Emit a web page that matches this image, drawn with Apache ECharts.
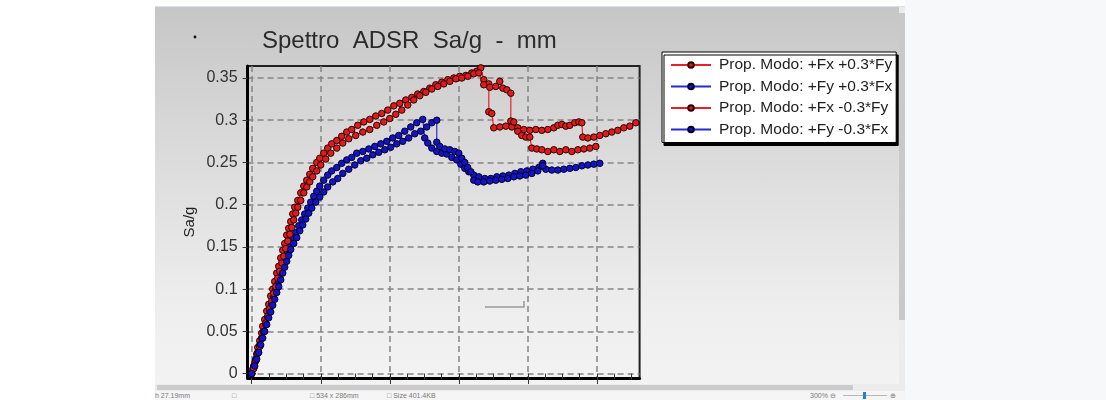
<!DOCTYPE html>
<html>
<head>
<meta charset="utf-8">
<title>Spettro ADSR Sa/g - mm</title>
<script src="https://cdn.jsdelivr.net/npm/echarts@6/dist/echarts.min.js"></script>
<style>
  html, body { margin: 0; padding: 0; width: 1106px; height: 400px; overflow: hidden; background: #ffffff;
               font-family: 'Liberation Sans', Arial, sans-serif; }
  #rightzone { position: absolute; left: 905px; top: 0; width: 201px; height: 400px; background: #f7f8fa; }
  #topline { position: absolute; left: 155px; top: 6px; width: 750px; height: 1px; background: #dcdfee; }
  #panel { position: absolute; left: 155px; top: 7px; width: 745px; height: 377px;
           background: linear-gradient(#c6c6c6, #d9d9d9 35%, #eeeeee 80%, #f3f3f3); }
  #chart { position: absolute; left: 0; top: 0; width: 1106px; height: 400px; z-index: 1; }
  #vscroll { position: absolute; left: 899px; top: 7px; width: 6px; height: 377px; background: #ececec; z-index: 2; }
  #vthumb { position: absolute; left: 899px; top: 13px; width: 6px; height: 307px; background: #c9c9c9; z-index: 3; }
  #hscroll { position: absolute; left: 155px; top: 384px; width: 750px; height: 7px; background: #ececec; z-index: 2; }
  #hthumb { position: absolute; left: 157px; top: 385px; width: 696px; height: 5px; background: #cbcbcb; z-index: 3; }
  #status { position: absolute; left: 155px; top: 391px; width: 750px; height: 9px; background: #f5f5f5; z-index: 2;
            font-size: 7px; line-height: 9px; color: #7a7a7a; }
  #status span { position: absolute; top: 0; white-space: nowrap; }
  #zoomtrack { position: absolute; left: 688px; top: 4px; width: 44px; height: 1px; background: #b8b8b8; }
  #zoomthumb { position: absolute; left: 708px; top: 1px; width: 3px; height: 7px; background: #2b7cd3; }
</style>
</head>
<body>
<div id="rightzone"></div>
<div id="topline"></div>
<div id="panel"></div>
<div id="chart"></div>
<div id="vscroll"></div>
<div id="vthumb"></div>
<div id="hscroll"></div>
<div id="hthumb"></div>
<div id="status">
  <span style="left:0px">h 27.19mm</span>
  <span style="left:77px">&#9633;</span>
  <span style="left:155px">&#9633; 534 x 286mm</span>
  <span style="left:232px">&#9633; Size 401.4KB</span>
  <span style="left:655px">300%</span>
  <span style="left:675px">&#8854;</span>
  <div id="zoomtrack"></div>
  <div id="zoomthumb"></div>
  <span style="left:735px">&#8853;</span>
</div>
<script>
// Axis ticks
const yTicks = [0, 0.05, 0.1, 0.15, 0.2, 0.25, 0.3, 0.35];
const xTicks = [0, 10, 20, 30, 40, 50];
const xMinorTicks = [0, 2.5, 5, 7.5, 10, 12.5, 15, 17.5, 20, 22.5, 25, 27.5, 30, 32.5, 35, 37.5, 40, 42.5, 45, 47.5, 50, 52.5, 55];

// Series names
const seriesNames = [
  'Prop. Modo: +Fx +0.3*Fy',
  'Prop. Modo: +Fy +0.3*Fx',
  'Prop. Modo: +Fx -0.3*Fy',
  'Prop. Modo: +Fy -0.3*Fx'
];

// Capacity curves: [displacement mm, Sa/g]
const fxPlusFy = [
  [0, 0.000], [0.14, 0.005], [0.43, 0.013], [0.72, 0.023], [0.87, 0.031], [1.16, 0.039], [1.45, 0.048],
  [1.59, 0.056], [1.88, 0.064], [2.17, 0.074], [2.46, 0.082], [2.75, 0.092], [3.04, 0.100], [3.33, 0.109],
  [3.62, 0.119], [3.91, 0.127], [4.20, 0.137], [4.49, 0.146], [4.78, 0.154], [5.07, 0.164], [5.36, 0.172],
  [5.65, 0.180], [5.94, 0.189], [6.23, 0.197], [6.67, 0.205], [7.10, 0.214], [7.54, 0.222], [7.97, 0.229],
  [8.41, 0.236], [8.84, 0.243], [9.42, 0.250], [9.86, 0.255], [10.43, 0.261], [11.01, 0.267], [11.59, 0.272],
  [12.32, 0.276], [13.04, 0.281], [13.77, 0.286], [14.49, 0.289], [15.36, 0.294], [16.23, 0.298], [17.10, 0.301],
  [17.97, 0.305], [18.84, 0.308], [19.71, 0.312], [20.58, 0.317], [21.45, 0.320], [22.32, 0.324], [23.19, 0.327],
  [24.06, 0.331], [24.93, 0.334], [25.80, 0.338], [26.67, 0.342], [27.54, 0.345], [28.41, 0.348], [29.28, 0.350],
  [30.14, 0.352], [31.01, 0.353], [31.88, 0.356], [32.61, 0.358], [33.19, 0.362],
  [33.62, 0.348], [34.35, 0.343], [34.35, 0.310], [34.78, 0.308], [35.07, 0.291], [35.94, 0.292], [36.81, 0.293],
  [37.68, 0.292], [38.55, 0.291], [39.42, 0.289], [40.29, 0.288], [41.16, 0.289], [42.03, 0.288], [42.90, 0.289],
  [43.77, 0.291], [44.35, 0.294], [44.93, 0.295], [45.51, 0.293], [46.09, 0.294], [46.81, 0.297], [47.39, 0.298],
  [47.83, 0.297], [47.97, 0.280], [48.70, 0.279], [49.57, 0.280], [50.43, 0.282], [51.30, 0.284], [52.17, 0.286],
  [53.04, 0.288], [53.91, 0.291], [54.78, 0.293], [55.65, 0.297]
];

const fyPlusFx = [
  [0, 0.000], [0.29, 0.009], [0.58, 0.017], [0.87, 0.025], [1.16, 0.034], [1.45, 0.042], [1.74, 0.050],
  [2.03, 0.058], [2.32, 0.067], [2.61, 0.074], [2.90, 0.082], [3.19, 0.090], [3.48, 0.099], [3.77, 0.106],
  [4.06, 0.114], [4.35, 0.121], [4.64, 0.130], [4.93, 0.137], [5.22, 0.144], [5.51, 0.150], [5.80, 0.156],
  [6.09, 0.161], [6.38, 0.167], [6.81, 0.175], [7.25, 0.182], [7.68, 0.189], [8.12, 0.196], [8.55, 0.203],
  [8.99, 0.210], [9.42, 0.216], [9.86, 0.222], [10.43, 0.229], [11.01, 0.235], [11.59, 0.240], [12.32, 0.244],
  [13.04, 0.249], [13.77, 0.253], [14.49, 0.256], [15.22, 0.261], [16.09, 0.263], [16.96, 0.266], [17.83, 0.269],
  [18.70, 0.272], [19.57, 0.275], [20.43, 0.279], [21.30, 0.282], [22.17, 0.287], [23.04, 0.292], [23.91, 0.297],
  [24.78, 0.301],
  [25.07, 0.279], [25.51, 0.273], [26.09, 0.267], [26.81, 0.263], [27.54, 0.261], [28.26, 0.260], [28.99, 0.256],
  [29.71, 0.253], [30.29, 0.248], [30.87, 0.243], [31.45, 0.239], [32.17, 0.235], [32.90, 0.233], [33.77, 0.231],
  [34.64, 0.231], [35.51, 0.233], [36.38, 0.234], [37.25, 0.235], [38.12, 0.237], [38.99, 0.239], [39.86, 0.240],
  [40.72, 0.242], [41.59, 0.244], [42.17, 0.249], [42.61, 0.242], [43.48, 0.241], [44.35, 0.241], [45.22, 0.242],
  [46.09, 0.243], [46.96, 0.244], [47.83, 0.246], [48.70, 0.247], [49.57, 0.248], [50.43, 0.249]
];

const fxMinusFy = [
  [0, 0.000], [0.29, 0.006], [0.58, 0.015], [0.87, 0.024], [1.16, 0.032], [1.45, 0.042], [1.74, 0.050],
  [2.03, 0.060], [2.32, 0.068], [2.61, 0.077], [2.90, 0.086], [3.19, 0.095], [3.48, 0.103], [3.77, 0.113],
  [4.06, 0.121], [4.35, 0.131], [4.64, 0.139], [4.93, 0.148], [5.22, 0.157], [5.51, 0.165], [5.80, 0.173],
  [6.09, 0.182], [6.38, 0.190], [6.67, 0.197], [7.10, 0.205], [7.54, 0.214], [7.97, 0.221], [8.41, 0.227],
  [8.84, 0.233], [9.42, 0.240], [10.00, 0.247], [10.72, 0.254], [11.45, 0.261], [12.32, 0.267], [13.19, 0.273],
  [14.06, 0.278], [15.07, 0.282], [16.09, 0.286], [17.10, 0.289], [18.12, 0.294], [19.13, 0.298], [20.00, 0.302],
  [20.87, 0.307], [21.74, 0.312], [22.61, 0.318], [23.48, 0.324], [24.35, 0.329], [25.22, 0.333], [26.09, 0.337],
  [26.96, 0.340], [27.83, 0.343], [28.70, 0.346], [29.57, 0.349], [30.43, 0.350], [31.30, 0.352], [32.17, 0.355],
  [32.90, 0.356],
  [33.62, 0.342], [34.49, 0.339], [35.36, 0.340], [35.94, 0.346], [36.38, 0.338], [36.96, 0.336], [37.54, 0.332],
  [37.54, 0.299], [37.97, 0.298], [38.55, 0.287], [39.13, 0.282], [39.71, 0.280], [40.29, 0.280], [40.58, 0.267],
  [41.30, 0.266], [42.03, 0.265], [42.90, 0.263], [43.77, 0.265], [44.64, 0.263], [45.51, 0.265], [46.38, 0.263],
  [47.25, 0.265], [48.12, 0.266], [48.99, 0.267], [49.86, 0.269]
];

const fyMinusFx = [
  [0, 0.000], [0.43, 0.009], [0.72, 0.017], [1.01, 0.025], [1.30, 0.034], [1.59, 0.042], [1.88, 0.050],
  [2.17, 0.058], [2.46, 0.066], [2.75, 0.073], [3.04, 0.081], [3.33, 0.088], [3.62, 0.096], [3.91, 0.103],
  [4.20, 0.111], [4.49, 0.119], [4.78, 0.126], [5.07, 0.133], [5.36, 0.140], [5.65, 0.147], [6.09, 0.154],
  [6.52, 0.161], [6.96, 0.169], [7.39, 0.176], [7.83, 0.183], [8.26, 0.190], [8.70, 0.196], [9.28, 0.203],
  [9.86, 0.209], [10.43, 0.215], [11.01, 0.221], [11.74, 0.227], [12.46, 0.231], [13.19, 0.237], [14.06, 0.242],
  [14.93, 0.247], [15.80, 0.252], [16.67, 0.255], [17.54, 0.259], [18.41, 0.262], [19.28, 0.265], [20.14, 0.268],
  [21.01, 0.272], [21.88, 0.275], [22.75, 0.279], [23.62, 0.284], [24.49, 0.287], [25.36, 0.292], [26.09, 0.297],
  [26.81, 0.300],
  [26.81, 0.274], [27.25, 0.269], [27.97, 0.266], [28.70, 0.265], [29.42, 0.263], [30.00, 0.261], [30.43, 0.255],
  [30.87, 0.250], [31.30, 0.244], [31.74, 0.239], [32.17, 0.229], [32.75, 0.227], [33.62, 0.227], [34.49, 0.228],
  [35.36, 0.229], [36.23, 0.230], [37.10, 0.231], [37.97, 0.233], [38.84, 0.234], [39.71, 0.235], [40.58, 0.237],
  [41.45, 0.240], [42.17, 0.246]
];

const FONT = "'Liberation Sans', Arial, sans-serif";
const RED_LINE = '#e32424';
const RED_FILL = '#dd1c1c';
const RED_EDGE = '#2a0000';
const BLUE_LINE = '#2a2ad0';
const BLUE_FILL = '#1414c2';
const BLUE_EDGE = '#00002a';

function curve(name, data, line, fill, edge) {
  return {
    name: name,
    type: 'line',
    data: data,
    symbol: 'circle',
    symbolSize: 6.5,
    showAllSymbol: true,
    animation: false,
    lineStyle: { color: line, width: 1.2 },
    itemStyle: { color: fill, borderColor: edge, borderWidth: 1 }
  };
}

const gridLine = { show: true, lineStyle: { color: '#858585', width: 1.5, type: [6, 4] } };

const chart = echarts.init(document.getElementById('chart'), null, { renderer: 'canvas' });
chart.setOption({
  backgroundColor: 'transparent',
  animation: false,
  title: {
    text: 'Spettro  ADSR  Sa/g  -  mm',
    left: 262, top: 29, padding: 0,
    textStyle: { fontFamily: FONT, fontSize: 24, fontWeight: 'normal', color: '#2b2b2b' }
  },
  legend: {
    orient: 'vertical',
    left: 662, top: 52,
    padding: [5, 4, 5, 8],
    itemGap: 5.5,
    itemWidth: 40,
    itemHeight: 7,
    backgroundColor: '#ffffff',
    borderColor: '#000000',
    borderWidth: 1,
    shadowColor: '#000000',
    shadowOffsetX: 2,
    shadowOffsetY: 3,
    shadowBlur: 0,
    textStyle: { fontFamily: FONT, fontSize: 15.5, color: '#1e1e1e', lineHeight: 16, padding: [0, 0, 0, 3] },
    data: seriesNames
  },
  grid: {
    left: 247.6, top: 66, width: 392, height: 312,
    show: true, borderColor: '#222222', borderWidth: 2, backgroundColor: 'transparent'
  },
  xAxis: [
    {
      type: 'value', min: -0.6, max: 56.2,
      axisLine: { show: true, onZero: false, lineStyle: { color: '#000', width: 3 } },
      axisTick: { show: true, customValues: xTicks, length: 6, lineStyle: { color: '#333', width: 1 } },
      axisLabel: { show: false },
      splitLine: gridLine
    },
    {
      type: 'value', min: -0.6, max: 56.2, position: 'bottom',
      axisLine: { show: false },
      axisTick: { show: true, customValues: xMinorTicks, length: 6, lineStyle: { color: '#333', width: 1 } },
      axisLabel: { show: false },
      splitLine: { show: false }
    }
  ],
  yAxis: {
    type: 'value', min: -0.0052, max: 0.3642,
    name: 'Sa/g', nameLocation: 'middle', nameGap: 50,
    nameTextStyle: { fontFamily: FONT, fontSize: 15, color: '#222' },
    axisLine: { show: true, onZero: false, lineStyle: { color: '#000', width: 3 } },
    axisTick: { show: true, customValues: yTicks, length: 5, lineStyle: { color: '#333', width: 1 } },
    axisLabel: {
      customValues: yTicks, margin: 10,
      fontFamily: FONT, fontSize: 16, color: '#333',
      formatter: function (v) { return String(+v.toFixed(2)); }
    },
    splitLine: gridLine
  },
  graphic: [
    { type: 'circle', shape: { cx: 195, cy: 37, r: 1.4 }, style: { fill: '#111' }, silent: true },
    { type: 'polyline', shape: { points: [[485, 307], [524, 307], [524, 301]] },
      style: { stroke: '#9a9a9a', lineWidth: 1.5, fill: null }, silent: true }
  ],
  series: [
    curve(seriesNames[0], fxPlusFy, RED_LINE, RED_FILL, RED_EDGE),
    curve(seriesNames[1], fyPlusFx, BLUE_LINE, BLUE_FILL, BLUE_EDGE),
    curve(seriesNames[2], fxMinusFy, RED_LINE, RED_FILL, RED_EDGE),
    curve(seriesNames[3], fyMinusFx, BLUE_LINE, BLUE_FILL, BLUE_EDGE)
  ]
});
</script>
</body>
</html>
